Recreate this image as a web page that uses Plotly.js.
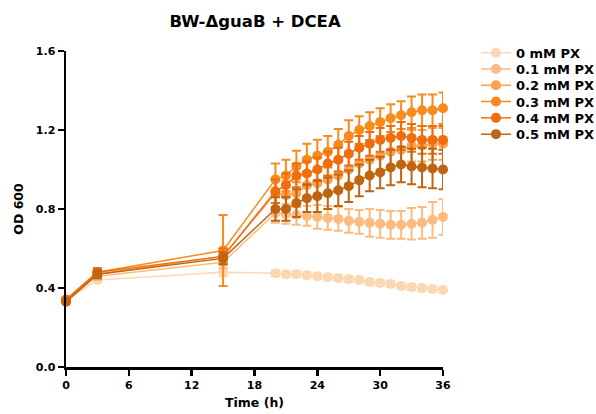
<!DOCTYPE html>
<html>
<head>
<meta charset="utf-8">
<script src="https://cdn.plot.ly/plotly-3.0.1.min.js"></script>
<style>html,body{margin:0;padding:0;background:#fff;}#chart{width:596px;height:414px;}</style>
</head>
<body>
<div id="chart"></div>
<script>
const time = [0, 3, 15, 20, 21, 22, 23, 24, 25, 26, 27, 28, 29, 30, 31, 32, 33, 34, 35, 36];
const seriesNames = ["0 mM PX", "0.1 mM PX", "0.2 mM PX", "0.3 mM PX", "0.4 mM PX", "0.5 mM PX"];
const colors = ["#fdd6b2", "#fdbb80", "#fca24e", "#f98b1c", "#f06d0e", "#bf6410"];

const od0  = [0.34, 0.44, 0.48, 0.475, 0.47, 0.47, 0.465, 0.46, 0.455, 0.45, 0.445, 0.44, 0.43, 0.425, 0.42, 0.41, 0.405, 0.40, 0.395, 0.39];
const od01 = [0.34, 0.46, 0.53, 0.78, 0.775, 0.77, 0.765, 0.76, 0.755, 0.75, 0.74, 0.735, 0.73, 0.725, 0.72, 0.72, 0.725, 0.73, 0.745, 0.76];
const od02 = [0.34, 0.47, 0.56, 0.88, 0.87, 0.88, 0.92, 0.93, 0.95, 0.97, 1.00, 1.03, 1.05, 1.07, 1.09, 1.10, 1.12, 1.12, 1.13, 1.13];
const od03 = [0.34, 0.48, 0.59, 0.95, 0.97, 1.015, 1.05, 1.07, 1.09, 1.125, 1.17, 1.20, 1.22, 1.24, 1.26, 1.275, 1.29, 1.30, 1.30, 1.31];
const od04 = [0.34, 0.48, 0.56, 0.89, 0.92, 0.97, 0.98, 1.00, 1.03, 1.05, 1.08, 1.11, 1.13, 1.15, 1.16, 1.17, 1.16, 1.15, 1.15, 1.15];
const od05 = [0.33, 0.47, 0.55, 0.80, 0.80, 0.83, 0.855, 0.865, 0.88, 0.895, 0.915, 0.945, 0.97, 0.985, 1.01, 1.025, 1.015, 1.01, 1.005, 1.00];

const err0  = [0.01, 0.01, 0.02, 0.015, 0.015, 0.015, 0.015, 0.015, 0.015, 0.015, 0.015, 0.015, 0.015, 0.015, 0.015, 0.015, 0.015, 0.015, 0.015, 0.015];
const err01 = [0.01, 0.02, 0.03, 0.05, 0.05, 0.05, 0.05, 0.06, 0.06, 0.06, 0.06, 0.06, 0.07, 0.07, 0.07, 0.07, 0.08, 0.08, 0.09, 0.09];
const err02 = [0.01, 0.02, 0.03, 0.07, 0.07, 0.07, 0.07, 0.07, 0.07, 0.07, 0.07, 0.07, 0.07, 0.07, 0.07, 0.07, 0.08, 0.08, 0.08, 0.08];
const err03 = [0.01, 0.02, 0.18, 0.08, 0.08, 0.08, 0.08, 0.08, 0.08, 0.08, 0.08, 0.07, 0.07, 0.07, 0.07, 0.07, 0.08, 0.08, 0.08, 0.08];
const err04 = [0.01, 0.02, 0.04, 0.06, 0.06, 0.06, 0.06, 0.06, 0.06, 0.06, 0.06, 0.06, 0.06, 0.06, 0.06, 0.07, 0.07, 0.07, 0.07, 0.07];
const err05 = [0.01, 0.02, 0.03, 0.06, 0.06, 0.07, 0.07, 0.08, 0.08, 0.08, 0.08, 0.08, 0.08, 0.08, 0.09, 0.09, 0.09, 0.10, 0.10, 0.10];

const values = [od0, od01, od02, od03, od04, od05];
const errors = [err0, err01, err02, err03, err04, err05];

const font = "'DejaVu Sans', sans-serif";
const legendIds = ["legend", "legend2", "legend3", "legend4", "legend5", "legend6"];
const legendY = [1.042, 0.9905, 0.9389, 0.8873, 0.8357, 0.7842];

const traces = seriesNames.map((name, i) => ({
  x: time,
  y: values[i],
  name: name,
  legend: legendIds[i],
  type: "scatter",
  mode: "lines+markers",
  line: {color: colors[i], width: 1.5},
  marker: {color: colors[i], size: 10, symbol: "circle"},
  error_y: {type: "data", array: errors[i], visible: true, color: colors[i], thickness: 2, width: 4.5},
  cliponaxis: false
}));

const layout = {
  width: 596, height: 414,
  margin: {l: 66, r: 153, t: 51, b: 47, autoexpand: false},
  paper_bgcolor: "#fff", plot_bgcolor: "#fff",
  font: {family: font, color: "#000", size: 12},
  title: {text: "BW-ΔguaB + DCEA", x: 0.428, xanchor: "center", y: 0.949, yanchor: "middle", font: {family: font, size: 16.5, weight: "bold", color: "#000"}},
  xaxis: {
    range: [0, 36], tickvals: [0, 6, 12, 18, 24, 30, 36],
    showgrid: false, zeroline: false, showline: true, linecolor: "#000", linewidth: 2.5,
    ticks: "outside", ticklen: 6, tickwidth: 2.5, tickcolor: "#000",
    tickfont: {family: font, size: 11, weight: "bold", color: "#000"},
    title: {text: "Time (h)", font: {family: font, size: 12.5, weight: "bold", color: "#000"}, standoff: 8}
  },
  yaxis: {
    range: [0, 1.6], tickvals: [0, 0.4, 0.8, 1.2, 1.6], tickformat: ".1f",
    showgrid: false, zeroline: false, showline: true, linecolor: "#000", linewidth: 2.5,
    ticks: "outside", ticklen: 6, tickwidth: 2.5, tickcolor: "#000",
    tickfont: {family: font, size: 11, weight: "bold", color: "#000"},
    title: {text: "OD 600", font: {family: font, size: 12.5, weight: "bold", color: "#000"}, standoff: 10}
  },
  showlegend: true
};

legendIds.forEach((id, i) => {
  layout[id] = {
    x: 1.0875, xanchor: "left", y: legendY[i], yanchor: "top",
    font: {family: font, size: 13, weight: "bold", color: "#000"},
    bgcolor: "rgba(0,0,0,0)", itemwidth: 30
  };
});

Plotly.newPlot("chart", traces, layout, {displayModeBar: false, staticPlot: true});
</script>
</body>
</html>
